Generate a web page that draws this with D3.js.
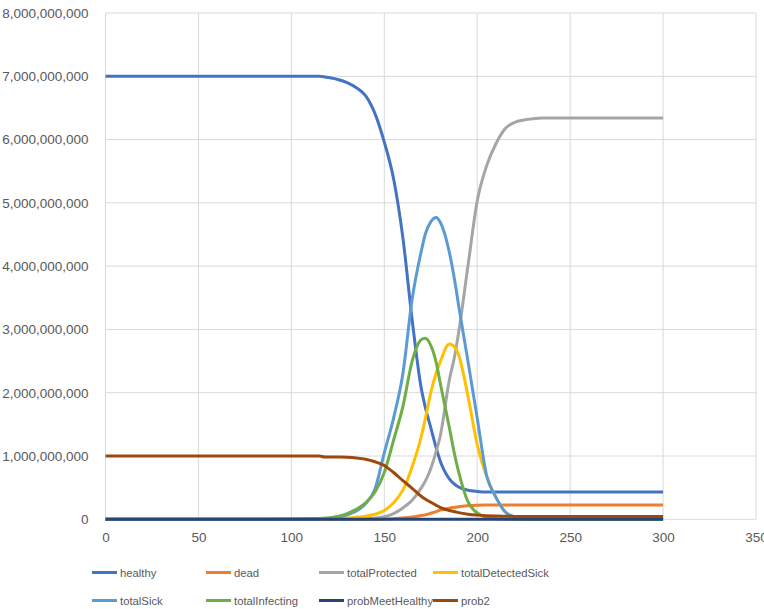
<!doctype html>
<html lang="en">
  <head>
    <meta charset="UTF-8" />
    <title>Epidemic model</title>
    <style>
      body { margin: 0; background: #fff; }
      text { font-family: "Liberation Sans", Arial, sans-serif; fill: #595959; }
    </style>
  </head>
  <body>
    <div id="target"></div>
    <script src="https://d3js.org/d3.v7.min.js"></script>
    <script>
      /* global d3 */

      // day numbers shared by all series
      const days = [0, 50, 100, 105, 110, 115, 118, 120, 125, 130, 135, 140, 145, 150, 155, 160, 165, 170, 172, 175, 178, 180,
        185, 188, 190, 195, 200, 205, 210, 215, 220, 225, 230, 235, 240, 250, 300];

      // values in billions
      const healthy = [7.0, 7.0, 7.0, 7.0, 7.0, 7.0, 6.99, 6.98, 6.95, 6.9, 6.82, 6.69, 6.41, 5.96, 5.38, 4.45, 3.15, 2.05, 1.78, 1.45, 1.12, 0.93,
        0.64, 0.55, 0.51, 0.46, 0.44, 0.43, 0.43, 0.43, 0.43, 0.43, 0.43, 0.43, 0.43, 0.43, 0.43];
      const dead = [0, 0, 0, 0, 0, 0, 0, 0, 0, 0, 0, 0, 0.002, 0.005, 0.01, 0.02, 0.035, 0.06, 0.07, 0.095, 0.12, 0.145,
        0.175, 0.19, 0.2, 0.215, 0.222, 0.225, 0.227, 0.227, 0.227, 0.227, 0.227, 0.227, 0.227, 0.227, 0.227];
      const totalProtected = [0, 0, 0, 0, 0, 0, 0, 0, 0, 0, 0.003, 0.008, 0.018, 0.04, 0.09, 0.18, 0.3, 0.5, 0.6, 0.8, 1.08, 1.3,
        2.2, 2.6, 2.95, 4.0, 5.03, 5.58, 5.93, 6.17, 6.27, 6.31, 6.33, 6.34, 6.34, 6.34, 6.34];
      const totalDetectedSick = [0, 0, 0, 0, 0.003, 0.005, 0.007, 0.008, 0.013, 0.02, 0.033, 0.05, 0.08, 0.14, 0.26, 0.46, 0.83, 1.32, 1.58, 2.0, 2.32, 2.48,
        2.77, 2.72, 2.6, 1.95, 1.18, 0.68, 0.35, 0.12, 0.035, 0.01, 0.003, 0, 0, 0, 0];
      const totalSick = [0, 0, 0.002, 0.004, 0.006, 0.01, 0.014, 0.018, 0.035, 0.07, 0.13, 0.25, 0.48, 1.05, 1.6, 2.3, 3.48, 4.25, 4.5, 4.7, 4.77, 4.7,
        4.22, 3.75, 3.38, 2.5, 1.6, 0.7, 0.35, 0.12, 0.035, 0.01, 0.003, 0.001, 0, 0, 0];
      const totalInfecting = [0, 0, 0.003, 0.005, 0.008, 0.013, 0.018, 0.022, 0.045, 0.09, 0.16, 0.26, 0.43, 0.74, 1.25, 1.78, 2.5, 2.84, 2.86, 2.75, 2.47, 2.17,
        1.45, 1.0, 0.75, 0.28, 0.1, 0.03, 0.01, 0.003, 0, 0, 0, 0, 0, 0, 0];
      const probMeetHealthy = [0, 0, 0, 0, 0, 0, 0, 0, 0, 0, 0, 0, 0, 0, 0, 0, 0, 0, 0, 0, 0, 0,
        0, 0, 0, 0, 0, 0, 0, 0, 0, 0, 0, 0, 0, 0, 0];
      const prob2 = [1.0, 1.0, 1.0, 1.0, 1.0, 1.0, 0.985, 0.985, 0.983, 0.98, 0.97, 0.95, 0.91, 0.85, 0.74, 0.61, 0.49, 0.36, 0.32, 0.27, 0.22, 0.19,
        0.14, 0.12, 0.105, 0.08, 0.066, 0.057, 0.052, 0.048, 0.046, 0.045, 0.045, 0.045, 0.045, 0.045, 0.045];

      const seriesNames = ["healthy", "dead", "totalProtected", "totalDetectedSick", "totalSick", "totalInfecting", "probMeetHealthy", "prob2"];
      const seriesValues = [healthy, dead, totalProtected, totalDetectedSick, totalSick, totalInfecting, probMeetHealthy, prob2];
      const colors = ["#4472C4", "#ED7D31", "#A5A5A5", "#FFC000", "#5B9BD5", "#70AD47", "#264478", "#9E480E"];

      const xTicks = [0, 50, 100, 150, 200, 250, 300, 350];
      const yTicks = [0, 1, 2, 3, 4, 5, 6, 7, 8];

      const width = 764, height = 609;
      const margin = { left: 105.5, right: 8, top: 13, bottom: 89.7 };

      const svg = d3.select("#target").append("svg")
        .attr("width", width)
        .attr("height", height);

      const x = d3.scaleLinear().domain([0, 350]).range([margin.left, width - margin.right]);
      const y = d3.scaleLinear().domain([0, 8]).range([height - margin.bottom, margin.top]);

      // gridlines
      svg.append("g").selectAll("line").data(yTicks).join("line")
        .attr("x1", x(0)).attr("x2", x(350))
        .attr("y1", (d) => y(d)).attr("y2", (d) => y(d))
        .attr("stroke", "#D9D9D9").attr("stroke-width", 1);
      svg.append("g").selectAll("line").data(xTicks).join("line")
        .attr("x1", (d) => x(d)).attr("x2", (d) => x(d))
        .attr("y1", y(0)).attr("y2", y(8))
        .attr("stroke", "#D9D9D9").attr("stroke-width", 1);

      // axes (labels only, Excel style)
      const fmt = d3.format(",");
      const yAxis = svg.append("g")
        .attr("transform", `translate(${x(0) - 14},0)`)
        .call(d3.axisLeft(y).tickValues(yTicks).tickSize(0).tickFormat((d) => fmt(d * 1e9)));
      const xAxis = svg.append("g")
        .attr("transform", `translate(0,${y(0) + 10})`)
        .call(d3.axisBottom(x).tickValues(xTicks).tickSize(0));
      [yAxis, xAxis].forEach((a) => {
        a.select(".domain").remove();
        a.selectAll("text").attr("fill", "#595959")
          .style("font-family", '"Liberation Sans", Arial, sans-serif')
          .style("font-size", "13.5px");
      });
      yAxis.selectAll("text").attr("dx", 0);

      // series
      const line = d3.line()
        .x((d, i) => x(days[i]))
        .y((d) => y(d))
        .curve(d3.curveMonotoneX);

      svg.append("g").selectAll("path").data(seriesValues).join("path")
        .attr("d", (d) => line(d))
        .attr("fill", "none")
        .attr("stroke", (d, i) => colors[i])
        .attr("stroke-width", 3)
        .attr("stroke-linejoin", "round");

      // legend
      const legendX = [92, 206, 319, 433];
      const legendY = [572.5, 600.5];
      const legend = svg.append("g").selectAll("g").data(seriesNames).join("g")
        .attr("transform", (d, i) => `translate(${legendX[i % 4]},${legendY[Math.floor(i / 4)]})`);
      legend.append("line")
        .attr("x1", 0).attr("x2", 25)
        .attr("stroke", (d, i) => colors[i])
        .attr("stroke-width", 3);
      legend.append("text")
        .attr("x", 28)
        .attr("dy", "0.36em")
        .style("font-size", "11.3px")
        .text((d) => d);
    </script>
  </body>
</html>
